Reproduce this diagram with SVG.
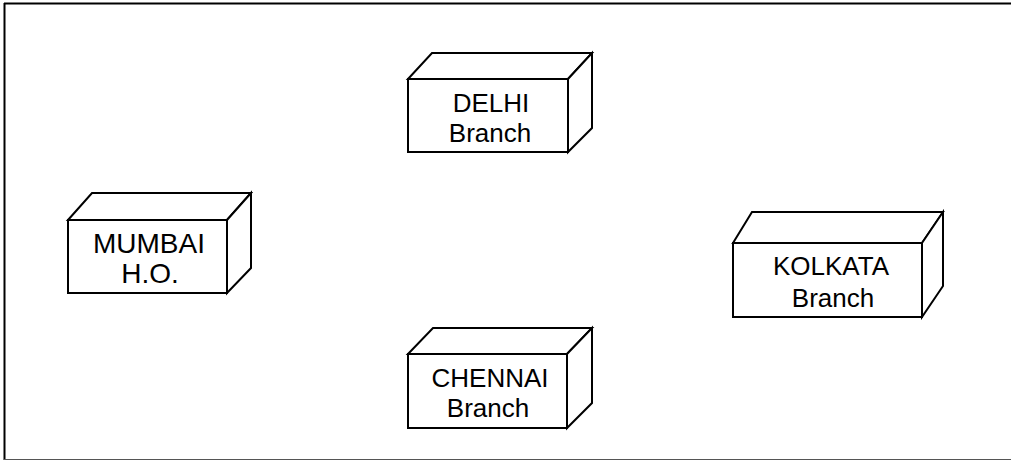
<svg xmlns="http://www.w3.org/2000/svg" width="1011" height="460" viewBox="0 0 1011 460">
<style>
.box{fill:#fff;stroke:#000;stroke-width:2;stroke-linejoin:miter}
.t{font-family:"Liberation Sans",Arial,sans-serif;font-size:26px;fill:#000;text-anchor:middle}
.big{font-size:28px}
</style>
<rect width="1011" height="460" fill="#fff"/>
<g id="frame">
<line x1="4" y1="3.5" x2="1011" y2="3.5" stroke="#000" stroke-width="2"/>
<line x1="4.5" y1="3" x2="4.5" y2="460" stroke="#000" stroke-width="2"/>
<line x1="4" y1="459.5" x2="1011" y2="459.5" stroke="#555" stroke-width="1"/>
</g>
<g id="connectors"></g>
<g id="delhi">
<rect class="box" x="408" y="79" width="160" height="73"/>
<polygon class="box" points="408,79 432,53 592,53 568,79"/>
<polygon class="box" points="568,79 592,53 592,128 568,152"/>
<text class="t" x="491" y="112">DELHI</text>
<text class="t" x="490" y="142">Branch</text>
</g>
<g id="mumbai">
<rect class="box" x="68" y="220" width="159" height="73"/>
<polygon class="box" points="68,220 92,193 251,193 227,220"/>
<polygon class="box" points="227,220 251,193 251,268 227,293"/>
<text class="t big" x="149" y="253">MUMBAI</text>
<text class="t big" x="150" y="283">H.O.</text>
</g>
<g id="kolkata">
<rect class="box" x="733" y="243" width="189" height="74"/>
<polygon class="box" points="733,243 752,212 943,212 922,243"/>
<polygon class="box" points="922,243 943,212 943,286 922,317"/>
<text class="t" x="831" y="275">KOLKATA</text>
<text class="t" x="833" y="307">Branch</text>
</g>
<g id="chennai">
<rect class="box" x="408" y="354" width="159" height="74"/>
<polygon class="box" points="408,354 433,328 592,328 567,354"/>
<polygon class="box" points="567,354 592,328 592,403 567,428"/>
<text class="t" x="490" y="387">CHENNAI</text>
<text class="t" x="488" y="417">Branch</text>
</g>
</svg>
